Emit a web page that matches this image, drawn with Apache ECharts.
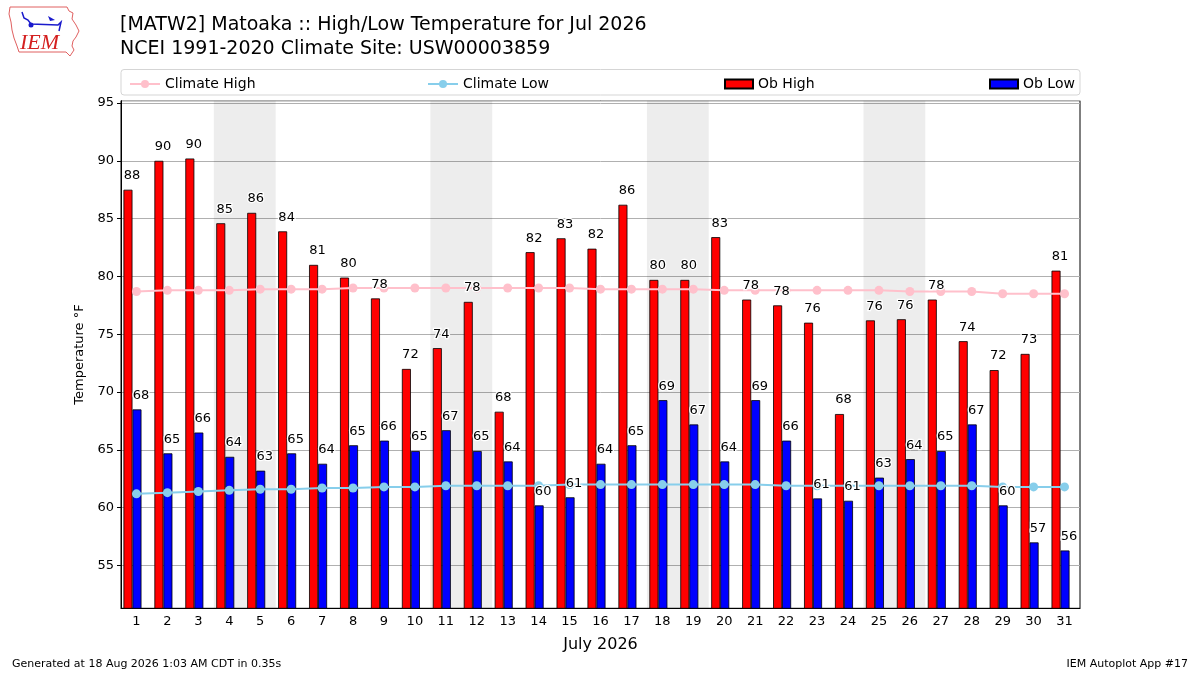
<!DOCTYPE html>
<html>
<head>
<meta charset="utf-8">
<script src="https://cdn.jsdelivr.net/npm/echarts@6/dist/echarts.min.js"></script>
<style>
  html, body { margin: 0; padding: 0; background: #fff; }
  #chart { width: 1200px; height: 675px; }
</style>
</head>
<body>
<div id="chart"></div>
<script>
var days = ['1', '2', '3', '4', '5', '6', '7', '8', '9', '10', '11', '12', '13', '14', '15', '16',
    '17', '18', '19', '20', '21', '22', '23', '24', '25', '26', '27', '28', '29', '30', '31'];
// observed high / low (bar heights) and the printed labels
var obHigh = [87.5, 90.0, 90.2, 84.6, 85.5, 83.9, 81.0, 79.9, 78.1, 72.0, 73.8, 77.8, 68.3, 82.1, 83.3, 82.4,
    86.2, 79.7, 79.7, 83.4, 78.0, 77.5, 76.0, 68.1, 76.2, 76.3, 78.0, 74.4, 71.9, 73.3, 80.5];
var obHighLabel = [88, 90, 90, 85, 86, 84, 81, 80, 78, 72, 74, 78, 68, 82, 83, 82,
    86, 80, 80, 83, 78, 78, 76, 68, 76, 76, 78, 74, 72, 73, 81];
var obLow = [68.5, 64.7, 66.5, 64.4, 63.2, 64.7, 63.8, 65.4, 65.8, 64.9, 66.7, 64.9, 64.0, 60.2, 60.9, 63.8,
    65.4, 69.3, 67.2, 64.0, 69.3, 65.8, 60.8, 60.6, 62.6, 64.2, 64.9, 67.2, 60.2, 57.0, 56.3];
var obLowLabel = [68, 65, 66, 64, 63, 65, 64, 65, 66, 65, 67, 65, 64, 60, 61, 64,
    65, 69, 67, 64, 69, 66, 61, 61, 63, 64, 65, 67, 60, 57, 56];
var climateHigh = [78.7, 78.8, 78.8, 78.8, 78.9, 78.9, 78.9, 79.0, 79.0, 79.0, 79.0, 79.0, 79.0, 79.0, 79.0, 78.9,
    78.9, 78.9, 78.9, 78.8, 78.8, 78.8, 78.8, 78.8, 78.8, 78.7, 78.7, 78.7, 78.5, 78.5, 78.5];
var climateLow = [61.2, 61.3, 61.4, 61.5, 61.6, 61.6, 61.7, 61.7, 61.8, 61.8, 61.9, 61.9, 61.9, 61.9, 62.0, 62.0,
    62.0, 62.0, 62.0, 62.0, 62.0, 61.9, 61.9, 61.9, 61.9, 61.9, 61.9, 61.9, 61.8, 61.8, 61.8];
// weekend shading (Sat-Sun)
var weekends = [[4, 5], [11, 12], [18, 19], [25, 26]];

var FONT = 'DejaVu Sans';
var BAR_W = 9;

var chart = echarts.init(document.getElementById('chart'));

function barLabel(labels) {
    return {
        show: true,
        position: 'top',
        distance: 7.5,
        offset: [4, 0],
        fontFamily: FONT,
        fontSize: 13,
        color: '#000',
        textBorderColor: '#fff',
        textBorderWidth: 2.5,
        formatter: function (p) {
            return labels[p.dataIndex];
        }
    };
}

function legendAt(name, left, w, h, icon) {
    var l = {
        data: [name],
        left: left,
        top: 72,
        itemWidth: w,
        itemHeight: h,
        textStyle: { fontFamily: FONT, fontSize: 14, color: '#000' },
        selectedMode: false
    };
    if (icon) l.icon = icon;
    return l;
}

// bars sit a little left of the tick in the original, an empty slot on the right does that
function spacer(axisIdx) {
    return { type: 'bar', xAxisIndex: axisIdx, data: [], barWidth: 8, barGap: '0%', silent: true };
}

var option = {
    animation: false,
    backgroundColor: '#fff',
    title: [{
        text: '[MATW2] Matoaka :: High/Low Temperature for Jul 2026\nNCEI 1991-2020 Climate Site: USW00003859',
        left: 115,
        top: 8,
        textStyle: { fontFamily: FONT, fontSize: 19, fontWeight: 'normal', color: '#000', lineHeight: 24 }
    }],
    legend: [
        legendAt('Climate High', 124, 30, 10),
        legendAt('Climate Low', 422, 30, 10),
        legendAt('Ob High', 719, 28, 9, 'rect'),
        legendAt('Ob Low', 984, 28, 9, 'rect')
    ],
    graphic: [
        {
            type: 'rect', z: -1,
            shape: { x: 121, y: 69.5, width: 959, height: 25.5, r: 3 },
            style: { fill: '#fff', stroke: '#d5d5d5', lineWidth: 1 }
        },
        // IEM logo: Iowa outline
        {
            type: 'polyline',
            shape: {
                points: [[10, 7], [67, 7], [69, 11], [73, 13], [72, 19], [76, 25], [79, 31], [76, 37],
                    [73, 41], [72, 46], [74, 50], [70, 56], [66, 52], [19, 52], [17, 46], [14, 38],
                    [12, 30], [11, 22], [9, 14], [10, 7]]
            },
            style: { stroke: '#e06060', lineWidth: 1, fill: 'none' }
        },
        {
            type: 'polyline',
            shape: { points: [[22, 12], [24, 18], [28, 20], [31, 24], [58, 25], [61, 22], [59, 31]] },
            style: { stroke: '#1a1acc', lineWidth: 1.5, fill: 'none' }
        },
        { type: 'circle', shape: { cx: 31, cy: 25, r: 2.5 }, style: { fill: '#1a1acc' } },
        { type: 'polygon', shape: { points: [[48, 16], [55, 20], [50, 21]] }, style: { fill: '#1a1acc' } },
        {
            type: 'text', left: 20, top: 32,
            style: { text: 'IEM', fontFamily: 'Liberation Serif', fontStyle: 'italic', fontSize: 22, fill: '#d42020' }
        },
        {
            type: 'text', left: 12, top: 659,
            style: { text: 'Generated at 18 Aug 2026 1:03 AM CDT in 0.35s', fontFamily: FONT, fontSize: 11, fill: '#000' }
        },
        {
            type: 'text', right: 12, top: 659,
            style: { text: 'IEM Autoplot App #17', fontFamily: FONT, fontSize: 11, fill: '#000' }
        }
    ],
    grid: {
        left: 121,
        right: 120,
        top: 100.7,
        bottom: 66.7,
        show: true,
        borderColor: '#000',
        borderWidth: 1
    },
    xAxis: [
        {
            type: 'category',
            data: days,
            name: 'July 2026',
            nameLocation: 'middle',
            nameGap: 29,
            nameTextStyle: { fontFamily: FONT, fontSize: 16, color: '#000' },
            axisLine: { lineStyle: { color: '#000', width: 1 } },
            axisTick: { alignWithLabel: true, length: 4, lineStyle: { color: '#000' } },
            axisLabel: { interval: 0, margin: 7, fontFamily: FONT, fontSize: 13, color: '#000' },
            splitLine: { show: false }
        },
        // same bands, only used to lift the bar labels above the climate lines
        { type: 'category', data: days, show: false },
        // day number scale for the weekend shading
        { type: 'value', min: 0.5, max: 31.5, show: false }
    ],
    yAxis: {
        type: 'value',
        min: 51.3,
        max: 95.2,
        splitNumber: 9,
        name: 'Temperature °F',
        nameLocation: 'middle',
        nameGap: 34,
        nameTextStyle: { fontFamily: FONT, fontSize: 13, color: '#000' },
        axisLine: { show: true, lineStyle: { color: '#000', width: 1 } },
        axisTick: { show: true, length: 4, lineStyle: { color: '#000' } },
        axisLabel: {
            showMinLabel: false,
            showMaxLabel: false,
            margin: 7,
            fontFamily: FONT,
            fontSize: 13,
            color: '#000'
        },
        splitLine: { show: true, lineStyle: { color: '#b0b0b0', width: 1 } }
    },
    series: [
        {
            type: 'line',
            xAxisIndex: 2,
            data: [],
            silent: true,
            z: 1,
            markArea: {
                silent: true,
                itemStyle: { color: 'rgba(0,0,0,0.07)' },
                data: weekends.map(function (w) {
                    return [{ xAxis: w[0] - 0.5 }, { xAxis: w[1] + 0.5 }];
                })
            }
        },
        {
            name: 'Ob High',
            type: 'bar',
            data: obHigh,
            barWidth: BAR_W,
            barGap: '0%',
            z: 2,
            itemStyle: { color: '#ff0000', borderColor: '#000', borderWidth: 0.8 }
        },
        {
            name: 'Ob Low',
            type: 'bar',
            data: obLow,
            barWidth: BAR_W,
            barGap: '0%',
            z: 2,
            itemStyle: { color: '#0000ff', borderColor: '#000', borderWidth: 0.8 }
        },
        spacer(0),
        {
            name: 'Climate High',
            type: 'line',
            data: climateHigh,
            symbol: 'circle',
            symbolSize: 9,
            z: 3,
            itemStyle: { color: '#ffc0cb' },
            lineStyle: { color: '#ffc0cb', width: 2 }
        },
        {
            name: 'Climate Low',
            type: 'line',
            data: climateLow,
            symbol: 'circle',
            symbolSize: 9,
            z: 3,
            itemStyle: { color: '#87ceeb' },
            lineStyle: { color: '#87ceeb', width: 2 }
        },
        {
            type: 'bar',
            xAxisIndex: 1,
            data: obHigh,
            barWidth: BAR_W,
            barGap: '0%',
            z: 4,
            silent: true,
            itemStyle: { color: 'rgba(0,0,0,0)', borderWidth: 0 },
            label: barLabel(obHighLabel)
        },
        {
            type: 'bar',
            xAxisIndex: 1,
            data: obLow,
            barWidth: BAR_W,
            barGap: '0%',
            z: 4,
            silent: true,
            itemStyle: { color: 'rgba(0,0,0,0)', borderWidth: 0 },
            label: barLabel(obLowLabel)
        },
        spacer(1)
    ]
};
chart.setOption(option);
</script>
</body>
</html>
